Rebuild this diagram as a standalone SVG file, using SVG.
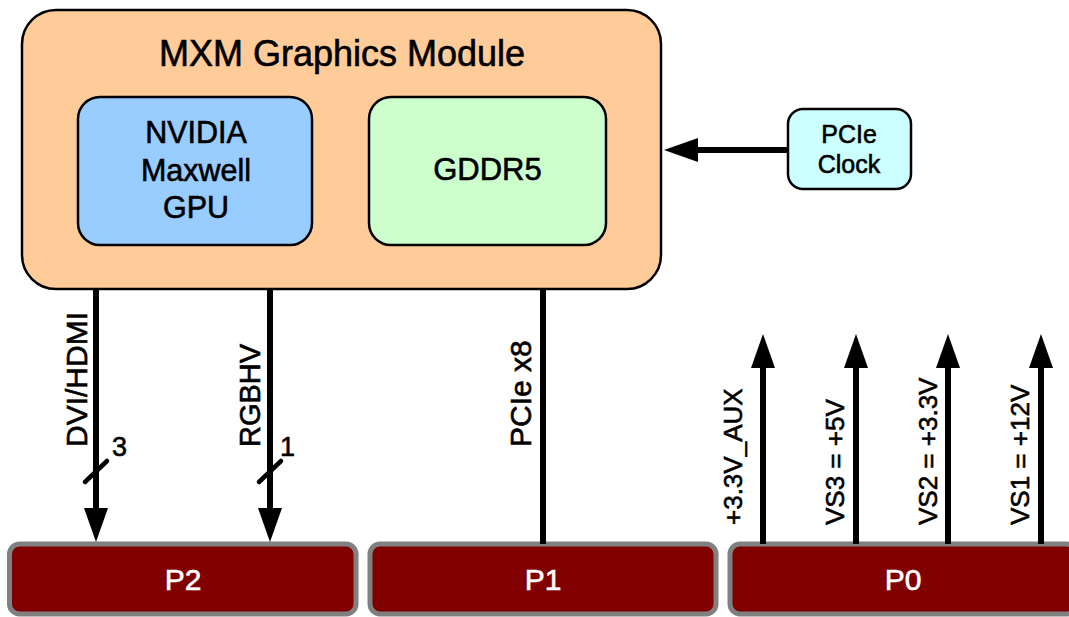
<svg xmlns="http://www.w3.org/2000/svg" width="1069" height="617" viewBox="0 0 1069 617">
<style>
text{font-family:"Liberation Sans",Arial,sans-serif;fill:#000;stroke:#000;stroke-width:0.6}
.box{stroke:#000;stroke-width:2.5}
.port{fill:#800000;stroke:#808080;stroke-width:5}
.pl{fill:#fff;stroke:#fff;font-size:30px;text-anchor:middle}
.c{stroke:#000;stroke-width:6;fill:none}
.sl{stroke:#000;stroke-width:4.5;stroke-linecap:round}
.lbl{font-size:30px}
.pw{font-size:26px}
.mid{text-anchor:middle}
</style>
<defs>
<marker id="ah" markerUnits="userSpaceOnUse" markerWidth="36" markerHeight="26" viewBox="0 0 36 26" refX="2" refY="12" orient="auto">
<path d="M0,0 L34,12 L0,24 z" fill="#000"/>
</marker>
</defs>
<g id="mxm">
<rect class="box" x="22" y="10" width="639" height="279" rx="34" fill="#FFCC99"/>
<text class="mid" x="342" y="66" font-size="36">MXM Graphics Module</text>
</g>
<g id="gpu">
<rect class="box" x="78" y="97" width="234" height="148" rx="22" fill="#99CCFF"/>
<text class="mid" x="196" y="143" font-size="30.5">NVIDIA</text>
<text class="mid" x="196" y="181" font-size="30.5">Maxwell</text>
<text class="mid" x="196" y="218" font-size="30.5">GPU</text>
</g>
<g id="gddr5">
<rect class="box" x="369" y="97" width="237" height="148" rx="22" fill="#CCFFCC"/>
<text class="mid" x="487.5" y="180" font-size="31">GDDR5</text>
</g>
<g id="clock">
<rect class="box" x="788" y="109" width="123" height="80" rx="15" fill="#CCFFFF"/>
<text class="mid" x="849" y="143" font-size="25">PCIe</text>
<text class="mid" x="849" y="173" font-size="25">Clock</text>
</g>
<g id="p2">
<rect class="port" x="9.5" y="544" width="346.5" height="70" rx="10"/>
<text class="pl" x="183" y="590">P2</text>
</g>
<g id="p1">
<rect class="port" x="370" y="544" width="346" height="70" rx="10"/>
<text class="pl" x="543" y="590">P1</text>
</g>
<g id="p0">
<rect class="port" x="730" y="544" width="346" height="70" rx="10"/>
<text class="pl" x="903" y="590">P0</text>
</g>
<g id="connectors">
<line class="c" x1="788" y1="150" x2="696" y2="150" marker-end="url(#ah)"/>
<line class="c" x1="96" y1="289" x2="96" y2="510" marker-end="url(#ah)"/>
<line class="c" x1="270" y1="289" x2="270" y2="510" marker-end="url(#ah)"/>
<line class="c" x1="543" y1="289" x2="543" y2="544"/>
<line class="c" x1="763" y1="544" x2="763" y2="366" marker-end="url(#ah)"/>
<line class="c" x1="856" y1="544" x2="856" y2="366" marker-end="url(#ah)"/>
<line class="c" x1="948" y1="544" x2="948" y2="366" marker-end="url(#ah)"/>
<line class="c" x1="1041" y1="544" x2="1041" y2="366" marker-end="url(#ah)"/>
<line class="sl" x1="85" y1="482" x2="107" y2="461"/>
<line class="sl" x1="259" y1="482" x2="281" y2="461"/>
<text x="112" y="456" font-size="27">3</text>
<text x="280" y="456" font-size="27">1</text>
<text class="lbl" transform="translate(87,447) rotate(-90)">DVI/HDMI</text>
<text transform="translate(260,447) rotate(-90)" style="font-size:29px">RGBHV</text>
<text class="lbl" transform="translate(531,447) rotate(-90)">PCIe x8</text>
<text class="pw" transform="translate(742,525) rotate(-90)">+3.3V_AUX</text>
<text class="pw" transform="translate(844,525) rotate(-90)">VS3 = +5V</text>
<text class="pw" transform="translate(937,525) rotate(-90)">VS2 = +3.3V</text>
<text class="pw" transform="translate(1029,525) rotate(-90)">VS1 = +12V</text>
</g>
</svg>
